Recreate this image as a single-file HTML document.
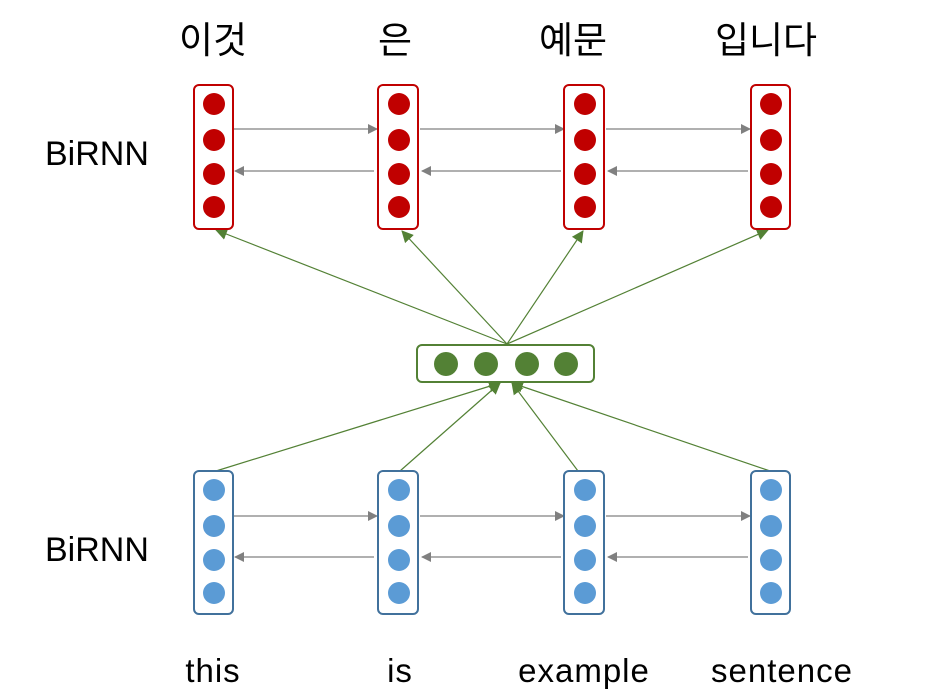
<!DOCTYPE html>
<html><head><meta charset="utf-8"><style>
html,body{margin:0;padding:0;background:#fff;}
svg{display:block;}
text{font-family:"Liberation Sans","Noto Sans CJK KR",sans-serif;fill:#000;}
</style></head><body>
<svg width="943" height="697" viewBox="0 0 943 697" xmlns="http://www.w3.org/2000/svg">
<defs>
<marker id="ga" markerWidth="10" markerHeight="10" refX="9" refY="5" orient="auto" markerUnits="userSpaceOnUse"><path d="M0,0 L10,5 L0,10 z" fill="#808080"/></marker>
<marker id="gr" markerWidth="12" markerHeight="12" refX="11" refY="6" orient="auto" markerUnits="userSpaceOnUse"><path d="M0,0 L12,6 L0,12 z" fill="#538135"/></marker>
</defs>
<g font-size="37" text-anchor="middle">
<text x="213" y="53">이것</text><text x="395" y="53">은</text><text x="573" y="53">예문</text><text x="766" y="53">입니다</text>
</g>
<g font-size="33" text-anchor="middle" letter-spacing="1">
<text x="213" y="682">this</text><text x="400" y="682">is</text><text x="584" y="682">example</text><text x="782" y="682">sentence</text>
</g>
<text x="45" y="165" font-size="34">BiRNN</text>
<text x="45" y="561" font-size="34">BiRNN</text>

<g stroke="#538135" stroke-width="1.2" fill="none">
<line x1="507" y1="344" x2="216" y2="230" marker-end="url(#gr)"/>
<line x1="507" y1="344" x2="402" y2="231" marker-end="url(#gr)"/>
<line x1="507" y1="344" x2="583" y2="231" marker-end="url(#gr)"/>
<line x1="507" y1="344" x2="768" y2="230" marker-end="url(#gr)"/>
<line x1="216" y1="471" x2="500" y2="383" marker-end="url(#gr)"/>
<line x1="400" y1="471" x2="500" y2="383" marker-end="url(#gr)"/>
<line x1="578" y1="471" x2="512" y2="383" marker-end="url(#gr)"/>
<line x1="770" y1="471" x2="512" y2="383" marker-end="url(#gr)"/>
</g>

<g stroke="#808080" stroke-width="1.2">
<line x1="234" y1="129" x2="377" y2="129" marker-end="url(#ga)"/>
<line x1="420" y1="129" x2="564" y2="129" marker-end="url(#ga)"/>
<line x1="606" y1="129" x2="750" y2="129" marker-end="url(#ga)"/>
<line x1="374" y1="171" x2="235" y2="171" marker-end="url(#ga)"/>
<line x1="561" y1="171" x2="422" y2="171" marker-end="url(#ga)"/>
<line x1="748" y1="171" x2="608" y2="171" marker-end="url(#ga)"/>
<line x1="234" y1="516" x2="377" y2="516" marker-end="url(#ga)"/>
<line x1="420" y1="516" x2="564" y2="516" marker-end="url(#ga)"/>
<line x1="606" y1="516" x2="750" y2="516" marker-end="url(#ga)"/>
<line x1="374" y1="557" x2="235" y2="557" marker-end="url(#ga)"/>
<line x1="561" y1="557" x2="422" y2="557" marker-end="url(#ga)"/>
<line x1="748" y1="557" x2="608" y2="557" marker-end="url(#ga)"/>
</g>

<g fill="#fff" stroke="#c00000" stroke-width="2">
<rect x="194" y="85" width="39" height="144" rx="5"/>
<rect x="378" y="85" width="40" height="144" rx="5"/>
<rect x="564" y="85" width="40" height="144" rx="5"/>
<rect x="751" y="85" width="39" height="144" rx="5"/>
</g>
<g fill="#c00000">
<circle cx="214" cy="104" r="11"/><circle cx="214" cy="140" r="11"/><circle cx="214" cy="174" r="11"/><circle cx="214" cy="207" r="11"/>
<circle cx="399" cy="104" r="11"/><circle cx="399" cy="140" r="11"/><circle cx="399" cy="174" r="11"/><circle cx="399" cy="207" r="11"/>
<circle cx="585" cy="104" r="11"/><circle cx="585" cy="140" r="11"/><circle cx="585" cy="174" r="11"/><circle cx="585" cy="207" r="11"/>
<circle cx="771" cy="104" r="11"/><circle cx="771" cy="140" r="11"/><circle cx="771" cy="174" r="11"/><circle cx="771" cy="207" r="11"/>
</g>

<rect x="417" y="345" width="177" height="37" rx="5" fill="#fff" stroke="#538135" stroke-width="2"/>
<g fill="#538135">
<circle cx="446" cy="364" r="12"/><circle cx="486" cy="364" r="12"/><circle cx="527" cy="364" r="12"/><circle cx="566" cy="364" r="12"/>
</g>

<g fill="#fff" stroke="#41719c" stroke-width="2">
<rect x="194" y="471" width="39" height="143" rx="5"/>
<rect x="378" y="471" width="40" height="143" rx="5"/>
<rect x="564" y="471" width="40" height="143" rx="5"/>
<rect x="751" y="471" width="39" height="143" rx="5"/>
</g>
<g fill="#5b9bd5">
<circle cx="214" cy="490" r="11"/><circle cx="214" cy="526" r="11"/><circle cx="214" cy="560" r="11"/><circle cx="214" cy="593" r="11"/>
<circle cx="399" cy="490" r="11"/><circle cx="399" cy="526" r="11"/><circle cx="399" cy="560" r="11"/><circle cx="399" cy="593" r="11"/>
<circle cx="585" cy="490" r="11"/><circle cx="585" cy="526" r="11"/><circle cx="585" cy="560" r="11"/><circle cx="585" cy="593" r="11"/>
<circle cx="771" cy="490" r="11"/><circle cx="771" cy="526" r="11"/><circle cx="771" cy="560" r="11"/><circle cx="771" cy="593" r="11"/>
</g>
</svg>
</body></html>
